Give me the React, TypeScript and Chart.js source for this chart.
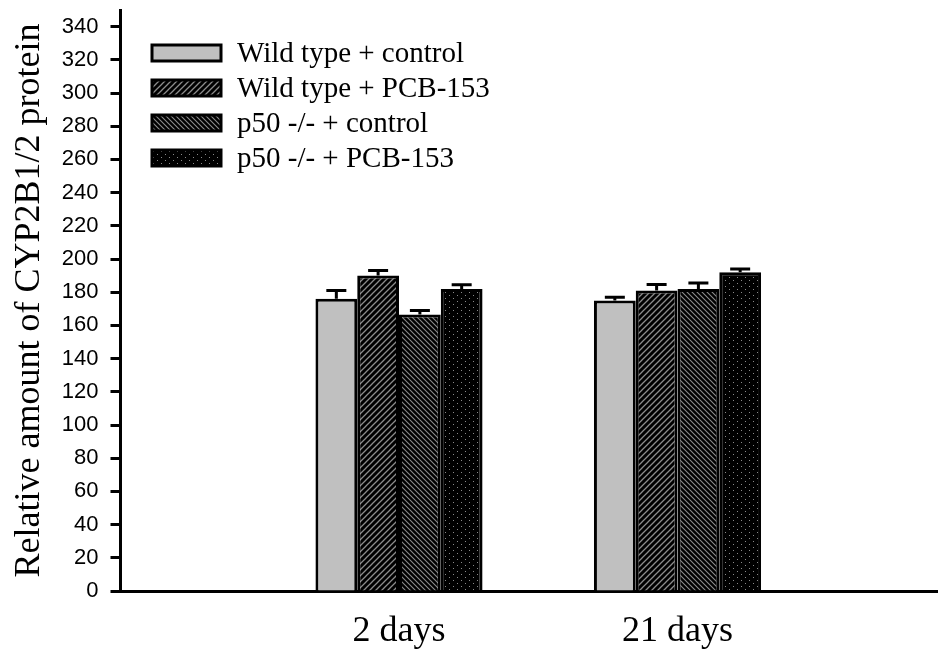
import React, { useEffect, useRef } from "react";
import { Chart, registerables } from "chart.js";

Chart.register(...registerables);

// ---- data ----
const categories = ["", "2 days", "21 days", ""];
const seriesNames = [
  "Wild type + control",
  "Wild type + PCB-153",
  "p50 -/- + control",
  "p50 -/- + PCB-153",
];
const wtControl = [null, 176, 175, null];
const wtPcb = [null, 190, 181, null];
const koControl = [null, 166.5, 182, null];
const koPcb = [null, 182, 192, null];
const wtControlErr = [null, 5, 2, null];
const wtPcbErr = [null, 3, 3.7, null];
const koControlErr = [null, 2.5, 3.5, null];
const koPcbErr = [null, 2.5, 2, null];
const yTickValues = [0, 20, 40, 60, 80, 100, 120, 140, 160, 180, 200, 220, 240, 260, 280, 300, 320, 340];
const yMin = 0;
const yMax = 350;
const yTitle = "Relative amount of CYP2B1/2 protein";

const seriesValues = [wtControl, wtPcb, koControl, koPcb];
const seriesErrors = [wtControlErr, wtPcbErr, koControlErr, koPcbErr];

function makePattern(kind: number): CanvasPattern | string {
  if (kind === 0) return "#c0c0c0";
  const c = document.createElement("canvas");
  const ctx = c.getContext("2d")!;
  if (kind === 1) {
    const s = 6;
    c.width = s;
    c.height = s;
    ctx.fillStyle = "#000";
    ctx.fillRect(0, 0, s, s);
    ctx.strokeStyle = "#8c8c8c";
    ctx.lineWidth = 1.3;
    ctx.beginPath();
    ctx.moveTo(-1, s + 1);
    ctx.lineTo(s + 1, -1);
    ctx.moveTo(-1, 1);
    ctx.lineTo(1, -1);
    ctx.moveTo(s - 1, s + 1);
    ctx.lineTo(s + 1, s - 1);
    ctx.stroke();
  } else if (kind === 2) {
    const s = 5;
    c.width = s;
    c.height = s;
    ctx.fillStyle = "#000";
    ctx.fillRect(0, 0, s, s);
    ctx.strokeStyle = "#8c8c8c";
    ctx.lineWidth = 1.1;
    ctx.beginPath();
    ctx.moveTo(-1, -1);
    ctx.lineTo(s + 1, s + 1);
    ctx.moveTo(s - 1, -1);
    ctx.lineTo(s + 1, 1);
    ctx.moveTo(-1, s - 1);
    ctx.lineTo(1, s + 1);
    ctx.stroke();
  } else {
    c.width = 8;
    c.height = 6;
    ctx.fillStyle = "#000";
    ctx.fillRect(0, 0, 8, 6);
    ctx.fillStyle = "#8a8a8a";
    ctx.fillRect(1, 1, 1, 1);
    ctx.fillRect(5, 4, 1, 1);
  }
  return ctx.createPattern(c, "repeat")!;
}

const errorBarPlugin = {
  id: "errorBars",
  afterDatasetsDraw(chart: any) {
    const ctx = chart.ctx;
    const yScale = chart.scales.y;
    ctx.save();
    ctx.strokeStyle = "#000";
    ctx.lineWidth = 3;
    chart.data.datasets.forEach((ds: any, i: number) => {
      const meta = chart.getDatasetMeta(i);
      const errs = seriesErrors[i];
      meta.data.forEach((el: any, j: number) => {
        const v = ds.data[j];
        if (v == null || errs[j] == null) return;
        const top = yScale.getPixelForValue(v + errs[j]);
        ctx.beginPath();
        ctx.moveTo(el.x, el.y);
        ctx.lineTo(el.x, top);
        ctx.moveTo(el.x - 10, top);
        ctx.lineTo(el.x + 10, top);
        ctx.stroke();
      });
    });
    ctx.restore();
  },
};

const legendPlugin = {
  id: "insideLegend",
  afterDraw(chart: any) {
    const ctx = chart.ctx;
    ctx.save();
    const x0 = 152;
    const y0 = chart.chartArea.top + 43;
    const rowH = 35;
    chart.data.datasets.forEach((ds: any, i: number) => {
      const cy = y0 + i * rowH;
      ctx.fillStyle = ds.backgroundColor;
      ctx.fillRect(x0, cy - 8, 69, 16);
      ctx.strokeStyle = "#000";
      ctx.lineWidth = 3;
      ctx.strokeRect(x0, cy - 8, 69, 16);
      ctx.fillStyle = "#000";
      ctx.font = "29px 'Liberation Serif', 'Times New Roman', serif";
      ctx.textBaseline = "middle";
      ctx.textAlign = "left";
      ctx.fillText(ds.label, x0 + 85, cy + 1);
    });
    ctx.restore();
  },
};

export default function App() {
  const ref = useRef<HTMLCanvasElement | null>(null);
  useEffect(() => {
    if (!ref.current) return;
    const datasets = seriesValues.map((vals, i) => ({
      label: seriesNames[i],
      data: vals,
      backgroundColor: makePattern(i) as any,
      borderColor: "#000",
      borderWidth: 3,
      borderSkipped: "bottom" as const,
      barPercentage: 1,
      categoryPercentage: 0.6,
    }));
    const chart = new Chart(ref.current, {
      type: "bar",
      data: { labels: categories, datasets },
      plugins: [errorBarPlugin, legendPlugin],
      options: {
        animation: false,
        responsive: false,
        devicePixelRatio: 1,
        layout: { padding: { left: 8, top: 10, right: 4, bottom: 0 } },
        plugins: { legend: { display: false }, tooltip: { enabled: false } },
        scales: {
          x: {
            type: "category",
            offset: false,
            grid: { display: false, drawTicks: false },
            border: { display: true, color: "#000", width: 3 },
            ticks: {
              color: "#000",
              padding: 19,
              maxRotation: 0,
              autoSkip: false,
              font: { family: "'Liberation Serif', 'Times New Roman', serif", size: 36 },
            },
            afterFit(scale: any) {
              scale.height = 65;
              scale.paddingLeft = 0;
              scale.paddingRight = 0;
            },
          },
          y: {
            min: yMin,
            max: yMax,
            ticks: {
              color: "#000",
              padding: 12,
              font: { family: "'Liberation Sans', Arial, sans-serif", size: 22 },
            },
            afterBuildTicks(scale: any) {
              scale.ticks = yTickValues.map((v) => ({ value: v }));
            },
            grid: {
              drawOnChartArea: false,
              drawTicks: true,
              tickLength: 10,
              tickWidth: 3,
              tickColor: "#000",
            },
            border: { display: true, color: "#000", width: 3 },
            title: {
              display: true,
              text: yTitle,
              color: "#000",
              padding: { top: 0, bottom: 0 },
              font: { family: "'Liberation Serif', 'Times New Roman', serif", size: 36, weight: "normal" },
            },
            afterFit(scale: any) {
              scale.width = 112.5;
              scale.paddingTop = 0;
              scale.paddingBottom = 0;
            },
          },
        },
      },
    });
    return () => chart.destroy();
  }, []);
  return (
    <div
      style={{
        position: "fixed",
        left: 0,
        top: 0,
        width: 938,
        height: 656,
        overflow: "hidden",
        background: "#fff",
      }}
    >
      <div style={{ width: 960, height: 656 }}>
        <canvas
          ref={ref}
          width={960}
          height={656}
          style={{ display: "block", width: 960, height: 656 }}
        />
      </div>
    </div>
  );
}
